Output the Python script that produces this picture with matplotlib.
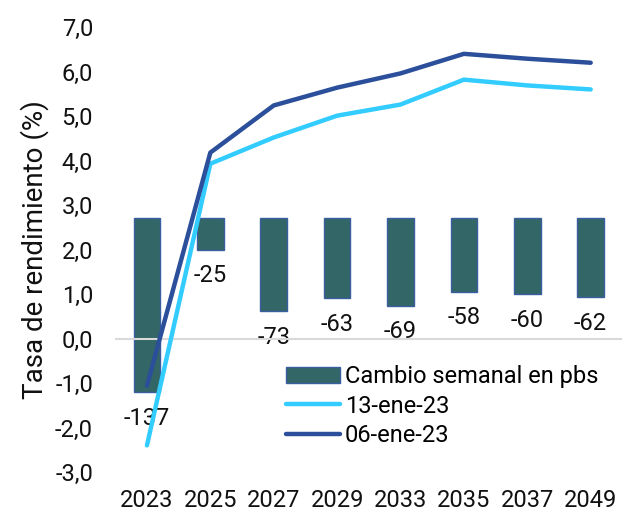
import matplotlib.pyplot as plt
from matplotlib.ticker import FuncFormatter

# data
plazos = ["2023", "2025", "2027", "2029", "2033", "2035", "2037", "2049"]
cambio_pbs = [-137, -25, -73, -63, -69, -58, -60, -62]
tasa_13ene = [-2.40, 3.93, 4.52, 5.01, 5.26, 5.82, 5.69, 5.60]
tasa_06ene = [-1.06, 4.18, 5.24, 5.64, 5.96, 6.40, 6.29, 6.20]

plt.rcParams["font.family"] = ["Roboto", "DejaVu Sans"]
plt.rcParams["font.size"] = 17

fig = plt.figure(figsize=(6.23, 5.12), dpi=100)
ax = fig.add_axes([0.185, 0.078, 0.814, 0.869])
ax2 = ax.twinx()

x = list(range(len(plazos)))

# bars on a hidden secondary axis (0 bps sits at ~2.7 on the left axis)
bars = ax2.bar(x, cambio_pbs, width=0.42, color="#336666", edgecolor="#3A5FA0",
               linewidth=1.0, label="Cambio semanal en pbs", zorder=2)
ax2.set_ylim(-200, 150)
for xi, v in zip(x, cambio_pbs):
    ax2.annotate(f"{v}", (xi, v), xytext=(0, -19), textcoords="offset points",
                 ha="center", va="center", fontsize=17, color="#111111")

ax.axhline(0, color="#D9D9D9", linewidth=1.5, zorder=0)
l1, = ax.plot(x, tasa_13ene, color="#33CCFF", linewidth=3.2,
              solid_capstyle="round", label="13-ene-23", zorder=5)
l2, = ax.plot(x, tasa_06ene, color="#2B4F9A", linewidth=3.2,
              solid_capstyle="round", label="06-ene-23", zorder=5)

# lines above bars
ax.set_zorder(ax2.get_zorder() + 1)
ax.patch.set_visible(False)

ax.set_xlim(-0.5, 7.5)
ax.set_ylim(-3, 7)
ax.set_yticks(range(-3, 8))
ax.yaxis.set_major_formatter(FuncFormatter(lambda v, p: f"{v:.1f}".replace(".", ",")))
ax.set_xticks(x)
ax.set_xticklabels(plazos)
ax.tick_params(axis="both", length=0, labelsize=17, colors="#111111")
ax.tick_params(axis="y", pad=16)
ax.tick_params(axis="x", pad=12)
ax.set_ylabel("Tasa de rendimiento (%)", fontsize=20, color="#111111", labelpad=4)

ax2.set_yticks([])
for a in (ax, ax2):
    for s in a.spines.values():
        s.set_visible(False)

ax.legend([bars, l1, l2], ["Cambio semanal en pbs", "13-ene-23", "06-ene-23"],
          loc="upper left", bbox_to_anchor=(0.459, 0.287), bbox_transform=fig.transFigure,
          frameon=False, fontsize=17, handlelength=2.3, handletextpad=0.2,
          labelspacing=0.28, borderaxespad=0, borderpad=0)

fig.savefig("out.png", dpi=100)
